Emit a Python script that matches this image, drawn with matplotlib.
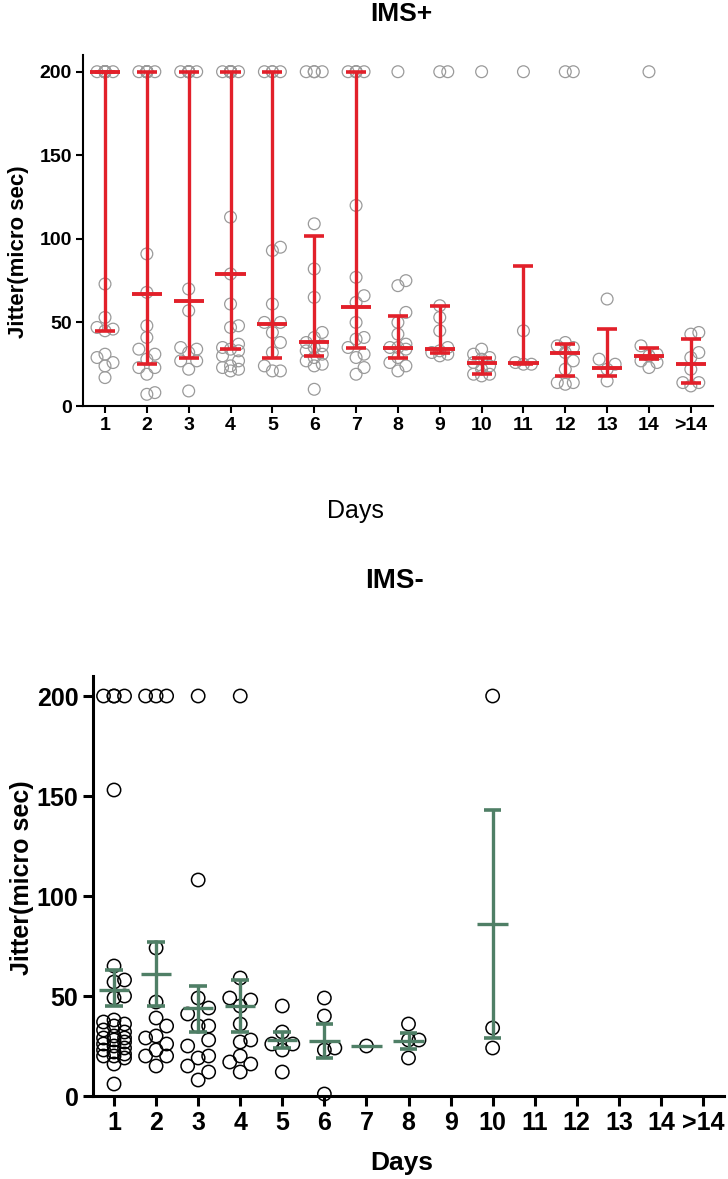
import matplotlib
matplotlib.use('Agg')
import matplotlib.pyplot as plt
import numpy as np

plt.rcParams['font.family'] = ['Liberation Sans', 'DejaVu Sans']

days = ['1', '2', '3', '4', '5', '6', '7', '8', '9', '10', '11', '12', '13', '14', '>14']

# IMS+ : individual jitter values per day (200 = ceiling)
ims_pos_values = [
    [200, 200, 200, 200, 200, 200, 200, 200, 200, 200, 200, 200, 200, 73, 53, 47, 46, 45, 31, 29, 26, 24, 17],
    [200, 200, 200, 200, 200, 200, 200, 200, 200, 91, 68, 48, 41, 34, 31, 28, 23, 23, 19, 8, 7],
    [200, 200, 200, 200, 200, 200, 200, 70, 57, 35, 34, 32, 27, 27, 22, 9],
    [200, 200, 200, 200, 200, 200, 200, 200, 200, 200, 200, 200, 113, 79, 61, 48, 47, 37, 35, 34, 33, 30, 27, 24, 23, 22, 21],
    [200, 200, 200, 200, 95, 93, 61, 50, 50, 44, 38, 32, 24, 21, 21],
    [200, 200, 200, 200, 109, 82, 65, 44, 41, 38, 36, 35, 33, 31, 29, 27, 25, 24, 10],
    [200, 200, 200, 200, 200, 120, 77, 66, 62, 50, 41, 40, 35, 31, 29, 23, 19],
    [200, 75, 72, 56, 50, 43, 37, 35, 35, 34, 29, 26, 24, 21],
    [200, 200, 60, 53, 45, 35, 33, 32, 31, 30],
    [200, 34, 31, 29, 28, 26, 24, 22, 19, 19, 18],
    [200, 45, 26, 25, 25],
    [200, 200, 38, 36, 35, 32, 27, 22, 14, 13, 14],
    [64, 28, 25, 22, 15],
    [200, 36, 31, 30, 27, 26, 23],
    [44, 43, 32, 29, 22, 14, 14, 12],
]
ims_pos_median = [200, 67, 63, 79, 49, 38, 59, 35, 34, 26, 26, 32, 23, 30, 25]
ims_pos_q1 = [45, 25, 29, 34, 29, 30, 35, 29, 32, 19, 25, 18, 18, 28, 14]
ims_pos_q3 = [200, 200, 200, 200, 200, 102, 200, 54, 60, 29, 84, 37, 46, 35, 40]

# IMS- : individual jitter values per day
ims_neg_values = [
    [200, 200, 200, 200, 153, 65, 58, 57, 50, 49, 38, 37, 36, 35, 33, 32, 30, 29, 29, 28, 27, 26, 25, 24, 23, 22, 21, 20, 20, 19, 16, 6],
    [200, 200, 200, 74, 47, 39, 35, 30, 29, 26, 23, 20, 20, 15],
    [200, 108, 49, 44, 41, 35, 35, 28, 25, 20, 19, 15, 12, 8],
    [200, 59, 49, 48, 45, 36, 28, 27, 20, 17, 16, 12],
    [45, 32, 26, 26, 23, 12],
    [49, 40, 24, 23, 1],
    [25],
    [36, 28, 28, 19],
    [],
    [200, 34, 24],
    [], [], [], [], [],
]
ims_neg_mean = [53, 61, 44, 45, 28, 27.5, 25, 27.5, np.nan, 86, np.nan, np.nan, np.nan, np.nan, np.nan]
ims_neg_lo = [45, 45, 32, 32, 24, 19, np.nan, 23.5, np.nan, 29, np.nan, np.nan, np.nan, np.nan, np.nan]
ims_neg_hi = [63, 77, 55, 58, 32, 36, np.nan, 31.5, np.nan, 143, np.nan, np.nan, np.nan, np.nan, np.nan]

RED = '#e2202a'
GREEN = '#4f7f66'

fig = plt.figure(figsize=(7.28, 11.79), dpi=100)
W, H = 728, 1179
ax_top = fig.add_axes([83 / W, 1 - 406 / H, 630 / W, 351 / H])
ax_bot = fig.add_axes([93 / W, 1 - 1096 / H, 631 / W, 420 / H])


def swarm_offsets(ax, vals, step_px, min_px):
    # place points in columns (0, +1, -1) x step, greedy, in pixel space
    p0 = ax.transData.transform((1, 0))
    p1 = ax.transData.transform((2, 100))
    px_x = p1[0] - p0[0]
    px_y = (p1[1] - p0[1]) / 100.0
    order = np.argsort(vals)
    placed = []
    offs = np.zeros(len(vals))
    for i in order:
        y = vals[i] * px_y
        best_k, best_d = 0, -1
        for k in (0, 1, -1):
            x = k * step_px
            d = min([np.hypot(x - px, y - py) for px, py in placed], default=1e9)
            if d >= min_px:
                best_k, best_d = k, d
                break
            if d > best_d:
                best_k, best_d = k, d
        placed.append((best_k * step_px, y))
        offs[i] = best_k * step_px / px_x
    return offs


def style_axes(ax, xlim, tick_size, spine_w, tick_len):
    ax.set_xlim(*xlim)
    ax.set_ylim(0, 210)
    ax.set_xticks(range(1, 16))
    ax.set_xticklabels(days)
    ax.set_yticks([0, 50, 100, 150, 200])
    for s in ('top', 'right'):
        ax.spines[s].set_visible(False)
    for s in ('left', 'bottom'):
        ax.spines[s].set_linewidth(spine_w)
    ax.tick_params(width=spine_w, length=tick_len, labelsize=tick_size, pad=3)
    for lab in ax.get_xticklabels() + ax.get_yticklabels():
        lab.set_fontweight('bold')


style_axes(ax_top, (0.474, 15.53), 14, 1.5, 5)
style_axes(ax_bot, (0.5, 15.5), 18, 2.2, 7.5)

# IMS+ panel
for i, vals in enumerate(ims_pos_values):
    x = i + 1
    vals = np.array(vals, dtype=float)
    offs = swarm_offsets(ax_top, vals, 8, 11)
    ax_top.scatter(x + offs, vals, s=72, facecolors='none', edgecolors='#9a9a9a',
                   linewidths=0.9, zorder=2, clip_on=False)
    ax_top.vlines(x, ims_pos_q1[i], ims_pos_q3[i], color=RED, lw=2.4, zorder=3)
    for v in (ims_pos_q1[i], ims_pos_q3[i]):
        ax_top.hlines(v, x - 0.24, x + 0.24, color=RED, lw=2.6, zorder=3)
    ax_top.hlines(ims_pos_median[i], x - 0.36, x + 0.36, color=RED, lw=2.8, zorder=4)

# IMS- panel
for i, vals in enumerate(ims_neg_values):
    x = i + 1
    if len(vals) == 0:
        continue
    vals = np.array(vals, dtype=float)
    offs = swarm_offsets(ax_bot, vals, 10.5, 13)
    ax_bot.scatter(x + offs, vals, s=92, facecolors='none', edgecolors='black',
                   linewidths=1.1, zorder=2, clip_on=False)
    if not np.isnan(ims_neg_lo[i]):
        ax_bot.vlines(x, ims_neg_lo[i], ims_neg_hi[i], color=GREEN, lw=2.4, zorder=3)
        for v in (ims_neg_lo[i], ims_neg_hi[i]):
            ax_bot.hlines(v, x - 0.21, x + 0.21, color=GREEN, lw=2.6, zorder=3)
    ax_bot.hlines(ims_neg_mean[i], x - 0.36, x + 0.36, color=GREEN, lw=2.4, zorder=4)

fig.text(401 / W, 1 - 14 / H, 'IMS+', ha='center', va='center', fontsize=19, fontweight='bold')
fig.text(355 / W, 1 - 511 / H, 'Days', ha='center', va='center', fontsize=18)
fig.text(19 / W, 1 - 252 / H, 'Jitter(micro sec)', ha='center', va='center',
         rotation=90, fontsize=16, fontweight='bold')

fig.text(395 / W, 1 - 581 / H, 'IMS-', ha='center', va='center', fontsize=20, fontweight='bold')
fig.text(402 / W, 1 - 1163 / H, 'Days', ha='center', va='center', fontsize=19, fontweight='bold')
fig.text(22 / W, 1 - 878 / H, 'Jitter(micro sec)', ha='center', va='center',
         rotation=90, fontsize=18, fontweight='bold')

fig.savefig('out.png', dpi=100)
